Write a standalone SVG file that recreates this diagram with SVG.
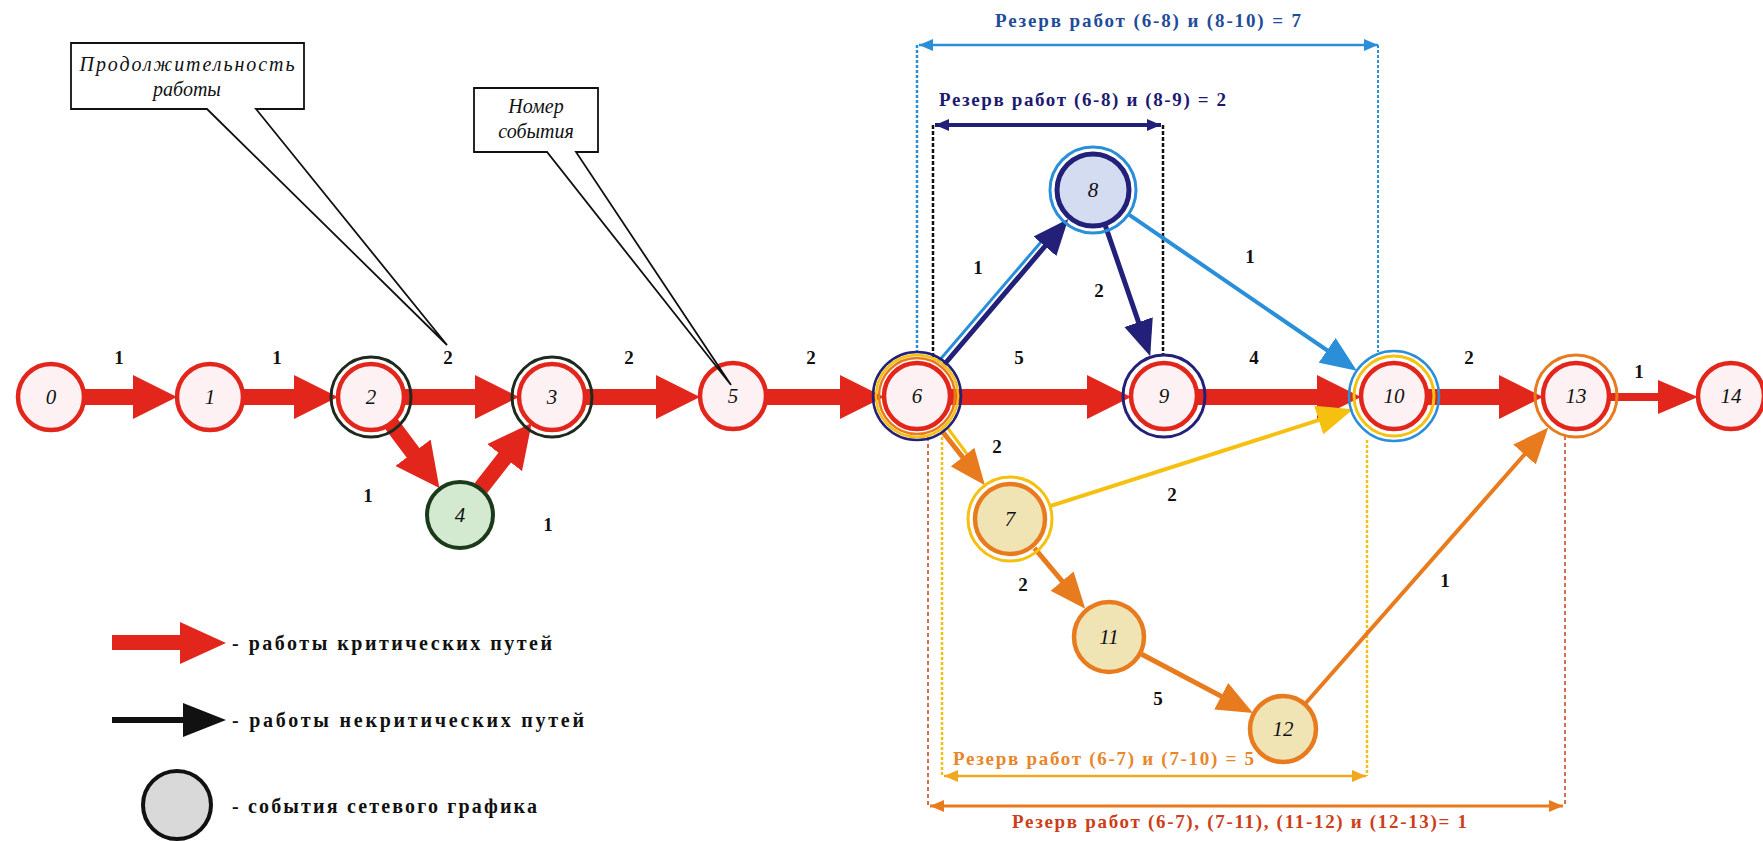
<svg xmlns="http://www.w3.org/2000/svg" width="1763" height="841" viewBox="0 0 1763 841">
<style>
.crit{stroke:#e3261c;stroke-width:16;fill:none}
.crit2{stroke:#e3261c;stroke-width:8;fill:none}
.navy{stroke:#23207a;stroke-width:5;fill:none}
.blue{stroke:#2a8fd8;stroke-width:4;fill:none}
.blue3{stroke:#2a8fd8;stroke-width:3;fill:none}
.orange{stroke:#e97b1f;stroke-width:5;fill:none}
.orange4{stroke:#e97b1f;stroke-width:4;fill:none}
.yellow{stroke:#f5c010;stroke-width:4;fill:none}
.yellow3{stroke:#f5c010;stroke-width:3;fill:none}
.nid{font-family:"Liberation Serif",serif;font-style:italic;font-size:21px;text-anchor:middle;fill:#111}
.elab{font-family:"Liberation Serif",serif;font-weight:bold;font-size:19px;text-anchor:middle;fill:#111}
.res{font-family:"Liberation Serif",serif;font-weight:bold;font-size:19px}
.leg{font-family:"Liberation Serif",serif;font-weight:bold;font-size:20px;fill:#111}
.call{font-family:"Liberation Serif",serif;font-style:italic;font-size:20px;text-anchor:middle;fill:#111}
.rin{fill:#fdf1f3;stroke:#e3261c;stroke-width:4.5}
.beige{fill:#f0e3b4;stroke:#e97b1f;stroke-width:4.5}
.ring{fill:none}
</style>
<defs>
<marker id="hCrit" markerUnits="userSpaceOnUse" markerWidth="44" markerHeight="44" refX="10" refY="22" orient="auto"><path d="M0,0 L44,22 L0,44 Z" fill="#e3261c"/></marker>
<marker id="hCrit2" markerUnits="userSpaceOnUse" markerWidth="40" markerHeight="34" refX="10" refY="17" orient="auto"><path d="M0,0 L40,17 L0,34 Z" fill="#e3261c"/></marker>
<marker id="hNavy" markerUnits="userSpaceOnUse" markerWidth="36" markerHeight="30" refX="26" refY="15" orient="auto"><path d="M0,0 L36,15 L0,30 Z" fill="#23207a"/></marker>
<marker id="hBlue" markerUnits="userSpaceOnUse" markerWidth="36" markerHeight="30" refX="26" refY="15" orient="auto"><path d="M0,0 L36,15 L0,30 Z" fill="#2a8fd8"/></marker>
<marker id="hOrange" markerUnits="userSpaceOnUse" markerWidth="36" markerHeight="30" refX="26" refY="15" orient="auto"><path d="M0,0 L36,15 L0,30 Z" fill="#e97b1f"/></marker>
<marker id="hYellow" markerUnits="userSpaceOnUse" markerWidth="36" markerHeight="30" refX="26" refY="15" orient="auto"><path d="M0,0 L36,15 L0,30 Z" fill="#f5c010"/></marker>
<marker id="dBlue" markerUnits="userSpaceOnUse" markerWidth="14" markerHeight="12" refX="14" refY="6" orient="auto-start-reverse"><path d="M0,0 L14,6 L0,12 Z" fill="#2a8fd8"/></marker>
<marker id="dNavy" markerUnits="userSpaceOnUse" markerWidth="14" markerHeight="12" refX="14" refY="6" orient="auto-start-reverse"><path d="M0,0 L14,6 L0,12 Z" fill="#23207a"/></marker>
<marker id="dYellow" markerUnits="userSpaceOnUse" markerWidth="14" markerHeight="12" refX="14" refY="6" orient="auto-start-reverse"><path d="M0,0 L14,6 L0,12 Z" fill="#f0a820"/></marker>
<marker id="dOrange" markerUnits="userSpaceOnUse" markerWidth="14" markerHeight="12" refX="14" refY="6" orient="auto-start-reverse"><path d="M0,0 L14,6 L0,12 Z" fill="#e97b1f"/></marker>
</defs>
<rect width="1763" height="841" fill="#ffffff"/>

<g id="reserves">
  <line x1="917" y1="45" x2="917" y2="353" stroke="#2a8fd8" stroke-width="2.5" stroke-dasharray="3,2"/>
  <line x1="1378" y1="45" x2="1378" y2="352" stroke="#2a8fd8" stroke-width="2" stroke-dasharray="3,2"/>
  <line x1="919" y1="45" x2="1378" y2="45" stroke="#2a8fd8" stroke-width="2.5" marker-start="url(#dBlue)" marker-end="url(#dBlue)"/>
  <text class="res" x="995" y="27" fill="#1f4c99" textLength="306">Резерв работ (6-8) и (8-10) = 7</text>

  <line x1="933" y1="125" x2="933" y2="358" stroke="#111" stroke-width="2.5" stroke-dasharray="4,2"/>
  <line x1="1163" y1="125" x2="1163" y2="354" stroke="#111" stroke-width="2.5" stroke-dasharray="4,2"/>
  <line x1="935" y1="125" x2="1161" y2="125" stroke="#23207a" stroke-width="4" marker-start="url(#dNavy)" marker-end="url(#dNavy)"/>
  <text class="res" x="939" y="106" fill="#1c1a70" textLength="287">Резерв работ (6-8) и (8-9) = 2</text>

  <line x1="942" y1="432" x2="942" y2="776" stroke="#f5c010" stroke-width="2.5" stroke-dasharray="3,2"/>
  <line x1="1367" y1="440" x2="1367" y2="776" stroke="#f5c010" stroke-width="2.5" stroke-dasharray="3,2"/>
  <line x1="944" y1="776" x2="1366" y2="776" stroke="#f0a820" stroke-width="2.5" marker-start="url(#dYellow)" marker-end="url(#dYellow)"/>
  <text class="res" x="953" y="765" fill="#e8862a" textLength="301">Резерв работ (6-7) и (7-10) = 5</text>

  <line x1="928" y1="437" x2="928" y2="806" stroke="#c8401c" stroke-width="1.5" stroke-dasharray="4,3"/>
  <line x1="1565" y1="436" x2="1565" y2="806" stroke="#c8401c" stroke-width="1.5" stroke-dasharray="4,3"/>
  <line x1="930" y1="806" x2="1563" y2="806" stroke="#e97b1f" stroke-width="3" marker-start="url(#dOrange)" marker-end="url(#dOrange)"/>
  <text class="res" x="1012" y="828" fill="#cc3e1a" textLength="455">Резерв работ (6-7), (7-11), (11-12) и (12-13)= 1</text>
</g>

<g id="connectors">
  <line class="crit" x1="84" y1="397" x2="143" y2="397" marker-end="url(#hCrit)"/>
  <line class="crit" x1="243" y1="397" x2="304" y2="397" marker-end="url(#hCrit)"/>
  <line class="crit" x1="404" y1="397" x2="485" y2="397" marker-end="url(#hCrit)"/>
  <line class="crit" x1="390.9" y1="423.3" x2="419" y2="460.8" marker-end="url(#hCrit)"/>
  <line class="crit" x1="480.9" y1="488.2" x2="510.8" y2="449.8" marker-end="url(#hCrit)"/>
  <line class="crit" x1="585" y1="397" x2="666" y2="397" marker-end="url(#hCrit)"/>
  <line class="crit" x1="766" y1="397" x2="850" y2="397" marker-end="url(#hCrit)"/>
  <line class="crit" x1="950" y1="397" x2="1097" y2="397" marker-end="url(#hCrit)"/>
  <line class="crit" x1="1197" y1="397" x2="1327" y2="397" marker-end="url(#hCrit)"/>
  <line class="crit" x1="1427" y1="397" x2="1509" y2="397" marker-end="url(#hCrit)"/>
  <line class="crit2" x1="1609" y1="397" x2="1668" y2="397" marker-end="url(#hCrit2)"/>

  <line class="blue3" x1="938" y1="362" x2="1041" y2="242"/>
  <line class="navy" x1="943" y1="366" x2="1061.8" y2="226.5" marker-end="url(#hNavy)"/>
  <line class="navy" x1="1105.4" y1="225.9" x2="1147" y2="346.8" marker-end="url(#hNavy)"/>
  <line class="blue" x1="1129.3" y1="214.9" x2="1348.6" y2="365" marker-end="url(#hBlue)"/>

  <line class="yellow3" x1="947" y1="427" x2="967" y2="454"/>
  <line class="orange" x1="942" y1="431" x2="978.7" y2="477.5" marker-end="url(#hOrange)"/>
  <line class="yellow" x1="1050" y1="506.2" x2="1343.5" y2="412.2" marker-end="url(#hYellow)"/>
  <line class="orange" x1="1034.4" y1="548.1" x2="1078.8" y2="601" marker-end="url(#hOrange)"/>
  <line class="orange" x1="1141.7" y1="654.3" x2="1244.2" y2="708.4" marker-end="url(#hOrange)"/>
  <line class="orange4" x1="1305.4" y1="703.5" x2="1541.7" y2="435" marker-end="url(#hOrange)"/>
</g>

<g id="edge-labels">
  <text class="elab" x="119" y="364">1</text>
  <text class="elab" x="277" y="364">1</text>
  <text class="elab" x="448" y="364">2</text>
  <text class="elab" x="368" y="502">1</text>
  <text class="elab" x="548" y="531">1</text>
  <text class="elab" x="629" y="364">2</text>
  <text class="elab" x="811" y="364">2</text>
  <text class="elab" x="1019" y="364">5</text>
  <text class="elab" x="1254" y="364">4</text>
  <text class="elab" x="1469" y="364">2</text>
  <text class="elab" x="1639" y="378">1</text>
  <text class="elab" x="978" y="274">1</text>
  <text class="elab" x="1099" y="297">2</text>
  <text class="elab" x="1250" y="263">1</text>
  <text class="elab" x="997" y="453">2</text>
  <text class="elab" x="1172" y="501">2</text>
  <text class="elab" x="1023" y="591">2</text>
  <text class="elab" x="1158" y="705">5</text>
  <text class="elab" x="1445" y="587">1</text>
</g>

<g id="node-0"><circle class="rin" cx="51" cy="397" r="33"/><text class="nid" x="51" y="404">0</text></g>
<g id="node-1"><circle class="rin" cx="210" cy="397" r="33"/><text class="nid" x="210" y="404">1</text></g>
<g id="node-2"><circle class="ring" cx="371" cy="397" r="40" stroke="#1d2a1d" stroke-width="3"/><circle class="rin" cx="371" cy="397" r="33"/><text class="nid" x="371" y="404">2</text></g>
<g id="node-3"><circle class="ring" cx="552" cy="397" r="40" stroke="#1d2a1d" stroke-width="3"/><circle class="rin" cx="552" cy="397" r="33"/><text class="nid" x="552" y="404">3</text></g>
<g id="node-4"><circle cx="460" cy="515" r="33" fill="#d3ead0" stroke="#1a3a1a" stroke-width="4"/><text class="nid" x="460" y="522">4</text></g>
<g id="node-5"><circle class="rin" cx="733" cy="396" r="33"/><text class="nid" x="733" y="403">5</text></g>
<g id="node-6"><circle class="ring" cx="917" cy="396" r="44" stroke="#23207a" stroke-width="2.5"/><circle class="ring" cx="917" cy="396" r="41" stroke="#f5c010" stroke-width="2.5"/><circle class="ring" cx="917" cy="396" r="38" stroke="#e97b1f" stroke-width="2.5"/><circle class="rin" cx="917" cy="396" r="33"/><text class="nid" x="917" y="403">6</text></g>
<g id="node-7"><circle class="ring" cx="1010" cy="519" r="42" stroke="#f5c010" stroke-width="3"/><circle class="beige" cx="1010" cy="519" r="35" stroke-width="5"/><text class="nid" x="1010" y="526">7</text></g>
<g id="node-8"><circle class="ring" cx="1093" cy="190" r="43" stroke="#2a8fd8" stroke-width="3"/><circle cx="1093" cy="190" r="36" fill="#d3dcf0" stroke="#23207a" stroke-width="5"/><text class="nid" x="1093" y="197">8</text></g>
<g id="node-9"><circle class="ring" cx="1164" cy="396" r="41" stroke="#23207a" stroke-width="3"/><circle class="rin" cx="1164" cy="396" r="33"/><text class="nid" x="1164" y="403">9</text></g>
<g id="node-10"><circle class="ring" cx="1394" cy="396" r="45" stroke="#2a8fd8" stroke-width="2.5"/><circle class="ring" cx="1394" cy="396" r="40" stroke="#f5c010" stroke-width="3"/><circle class="rin" cx="1394" cy="396" r="33"/><text class="nid" x="1394" y="403">10</text></g>
<g id="node-11"><circle class="beige" cx="1109" cy="637" r="35"/><text class="nid" x="1109" y="644">11</text></g>
<g id="node-12"><circle class="beige" cx="1283" cy="729" r="33"/><text class="nid" x="1283" y="736">12</text></g>
<g id="node-13"><circle class="ring" cx="1576" cy="396" r="41" stroke="#e97b1f" stroke-width="3"/><circle class="rin" cx="1576" cy="396" r="33"/><text class="nid" x="1576" y="403">13</text></g>
<g id="node-14"><circle class="rin" cx="1731" cy="396" r="33"/><text class="nid" x="1731" y="403">14</text></g>

<g id="callout-duration">
  <path d="M71,43 H304 V109 H256 L447,345 L207,109 H71 Z" fill="#ffffff" stroke="#111" stroke-width="1.8" stroke-linejoin="miter"/>
  <text class="call" x="187" y="71" textLength="215">Продолжительность</text>
  <text class="call" x="187" y="96">работы</text>
</g>
<g id="callout-number">
  <path d="M474,88 H598 V152 H576 L731,385 L547,152 H474 Z" fill="#ffffff" stroke="#111" stroke-width="1.8"/>
  <text class="call" x="536" y="113">Номер</text>
  <text class="call" x="536" y="138">события</text>
</g>

<g id="legend">
  <path d="M112,635 H180 V622 L226,643 L180,664 V650 H112 Z" fill="#e3261c"/>
  <text class="leg" x="232" y="650" textLength="320">- работы критических путей</text>
  <line x1="112" y1="720" x2="190" y2="720" stroke="#111" stroke-width="6"/>
  <path d="M183,703 L226,720 L183,737 Z" fill="#111"/>
  <text class="leg" x="232" y="727" textLength="352">- работы некритических путей</text>
  <circle cx="177" cy="805" r="34" fill="#d9d9d9" stroke="#111" stroke-width="4"/>
  <text class="leg" x="232" y="813" textLength="305">- события сетевого графика</text>
</g>
</svg>
